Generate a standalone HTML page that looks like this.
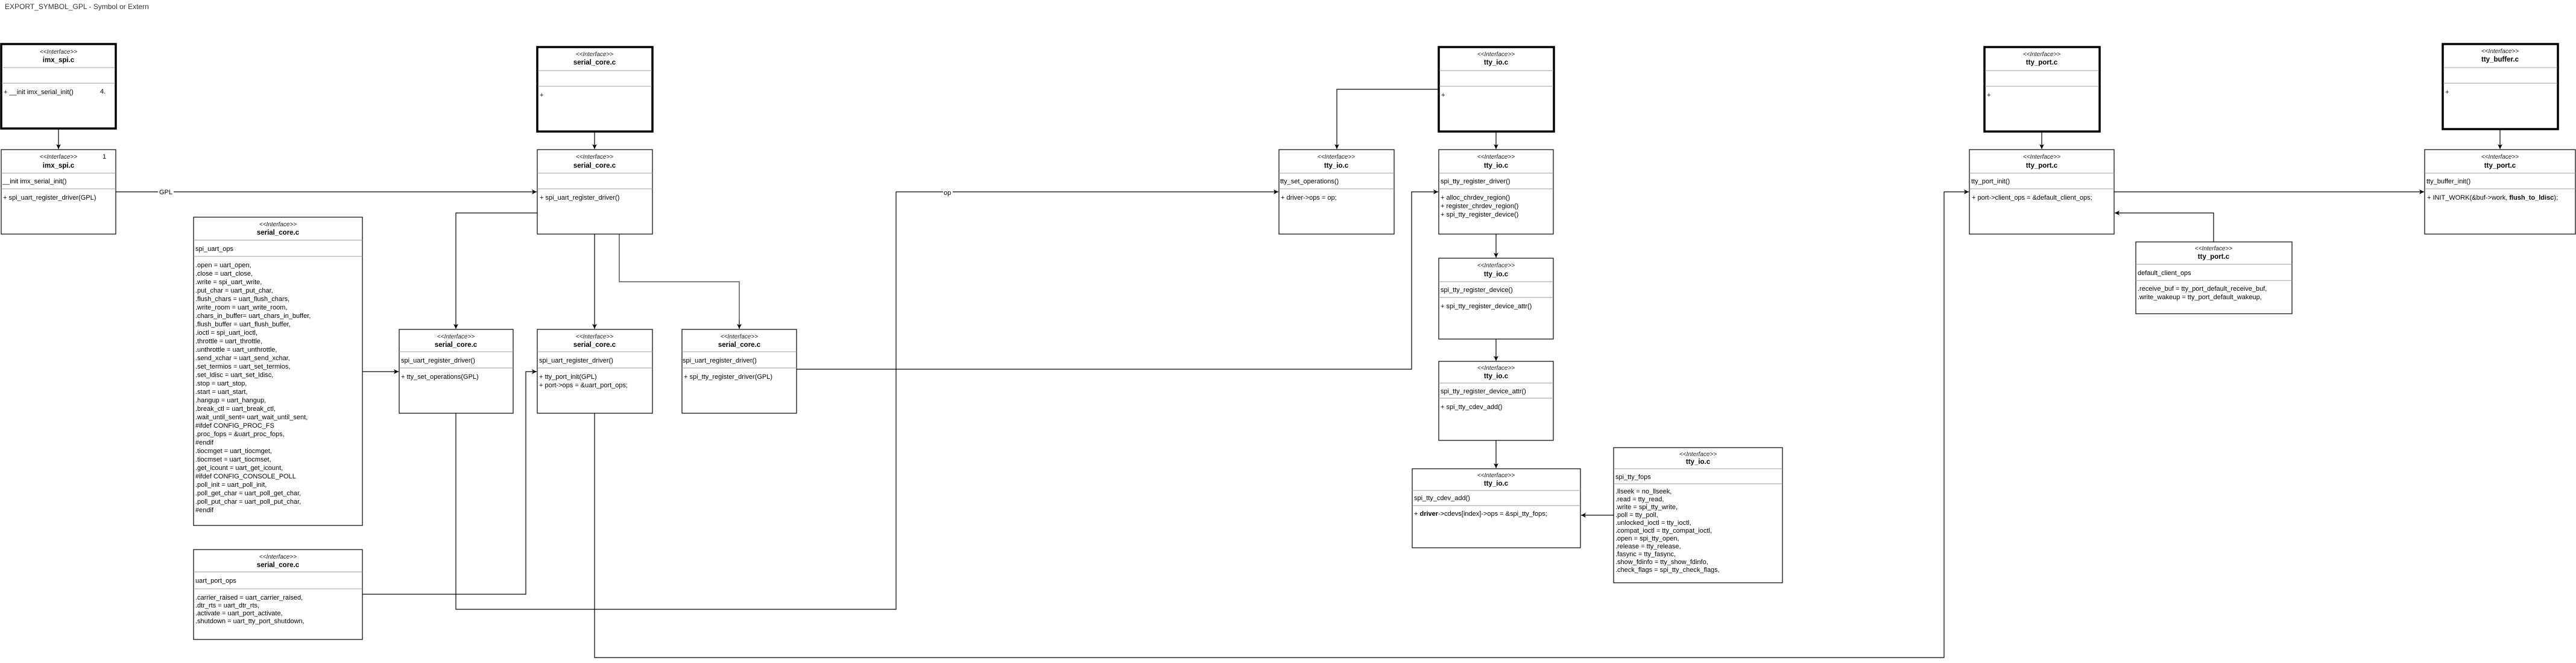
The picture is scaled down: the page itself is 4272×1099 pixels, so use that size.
<!DOCTYPE html>
<html><head><meta charset="utf-8">
<style>
html,body{margin:0;padding:0;background:#fff;}
svg{display:block;}
text{font-family:"Liberation Sans",Arial,sans-serif;font-size:11px;fill:#000;}
.st{font-style:italic;font-size:10px;fill:#222;}
.nm{font-weight:bold;font-size:11.5px;}
.b{fill:#fff;stroke:#000;stroke-width:1.2;}
.bb{fill:#fff;stroke:#000;stroke-width:3.5;}
.dv{stroke:#9a9a9a;stroke-width:1;}
.c{fill:none;stroke:#000;stroke-width:1.2;}
</style></head><body>
<svg width="4272" height="1099" viewBox="0 0 4272 1099" xmlns="http://www.w3.org/2000/svg">
<defs>
<marker id="a" markerWidth="10" markerHeight="10" refX="8" refY="4" orient="auto" markerUnits="userSpaceOnUse">
<path d="M0,0 L8,4 L0,8 L2,4 z" fill="#000"/></marker>
</defs>
<rect width="4272" height="1099" fill="#fff"/>
<text x="8" y="15" style="font-size:12px;fill:#333">EXPORT_SYMBOL_GPL - Symbol or Extern</text>

<!-- connectors -->
<path class="c" d="M97,213 V247" marker-end="url(#a)"/>
<path class="c" d="M192,318 H890" marker-end="url(#a)"/>
<rect x="262" y="311" width="26" height="14" fill="#fff"/>
<text x="264" y="322">GPL</text>
<path class="c" d="M986,218 V247" marker-end="url(#a)"/>
<path class="c" d="M891,353 H756 V545" marker-end="url(#a)"/>
<path class="c" d="M986,388 V545" marker-end="url(#a)"/>
<path d="M1027,388 V467 H1226 V530" fill="none" stroke="#808080" stroke-width="2"/>
<path class="c" d="M1226,530 V545" marker-end="url(#a)"/>
<path class="c" d="M601,616 H661" marker-end="url(#a)"/>
<path class="c" d="M601,985 H872 V616 H890" marker-end="url(#a)"/>
<path class="c" d="M756,685 V1010 H1486 V318 H2120" marker-end="url(#a)"/>
<rect x="1564" y="312" width="16" height="13" fill="#fff"/>
<text x="1565" y="323">op</text>
<path class="c" d="M986,685 V1090 H3224 V318 H3265" marker-end="url(#a)"/>
<path class="c" d="M1321,612 H2341 V318 H2385" marker-end="url(#a)"/>
<path class="c" d="M2386,148 H2217 V247" marker-end="url(#a)"/>
<path class="c" d="M2481,218 V247" marker-end="url(#a)"/>
<path class="c" d="M2481,388 V427" marker-end="url(#a)"/>
<path class="c" d="M2481,562 V598" marker-end="url(#a)"/>
<path class="c" d="M2481,730 V776" marker-end="url(#a)"/>
<path class="c" d="M2676,854 H2622" marker-end="url(#a)"/>
<path class="c" d="M3386,218 V247" marker-end="url(#a)"/>
<path class="c" d="M3671,401 V353 H3507" marker-end="url(#a)"/>
<path class="c" d="M3506,318 H4020" marker-end="url(#a)"/>
<path class="c" d="M4146,214 V247" marker-end="url(#a)"/>

<!-- 1 imx top -->
<rect class="bb" x="2" y="73" width="190" height="140"/>
<line class="dv" x1="3" y1="112" x2="191" y2="112"/><line class="dv" x1="3" y1="138" x2="191" y2="138"/>
<text class="st" x="97" y="89" text-anchor="middle">&lt;&lt;Interface&gt;&gt;</text>
<text class="nm" x="97" y="103" text-anchor="middle">imx_spi.c</text>
<text x="6" y="156">+ __init imx_serial_init()</text>
<text x="166" y="155">4.</text>

<!-- 2 imx second -->
<rect class="b" x="2" y="248" width="190" height="140"/>
<line class="dv" x1="2" y1="287" x2="192" y2="287"/><line class="dv" x1="2" y1="313" x2="192" y2="313"/>
<text class="st" x="97" y="263" text-anchor="middle">&lt;&lt;Interface&gt;&gt;</text>
<text class="nm" x="97" y="278" text-anchor="middle">imx_spi.c</text>
<text x="170" y="263">1</text>
<text x="4" y="304">__init imx_serial_init()</text>
<text x="5" y="331">+  spi_uart_register_driver(GPL)</text>

<!-- 3 serial_core top -->
<rect class="bb" x="891" y="78" width="191" height="140"/>
<line class="dv" x1="892" y1="117" x2="1081" y2="117"/><line class="dv" x1="892" y1="143" x2="1081" y2="143"/>
<text class="st" x="986" y="93" text-anchor="middle">&lt;&lt;Interface&gt;&gt;</text>
<text class="nm" x="986" y="107" text-anchor="middle">serial_core.c</text>
<text x="895" y="161">+</text>

<!-- 4 serial_core second -->
<rect class="b" x="891" y="248" width="191" height="140"/>
<line class="dv" x1="891" y1="287" x2="1082" y2="287"/><line class="dv" x1="891" y1="313" x2="1082" y2="313"/>
<text class="st" x="986" y="263" text-anchor="middle">&lt;&lt;Interface&gt;&gt;</text>
<text class="nm" x="986" y="278" text-anchor="middle">serial_core.c</text>
<text x="895" y="331">+ spi_uart_register_driver()</text>

<!-- 5 spi_uart_ops -->
<rect class="b" x="321" y="360" width="280" height="511"/>
<line class="dv" x1="321" y1="398" x2="601" y2="398"/><line class="dv" x1="321" y1="425" x2="601" y2="425"/>
<text class="st" x="461" y="375" text-anchor="middle">&lt;&lt;Interface&gt;&gt;</text>
<text class="nm" x="461" y="389" text-anchor="middle">serial_core.c</text>
<text x="324" y="416">spi_uart_ops</text>
<text x="324" y="443">.open = uart_open,</text>
<text x="324" y="457">.close = uart_close,</text>
<text x="324" y="471">.write = spi_uart_write,</text>
<text x="324" y="485">.put_char = uart_put_char,</text>
<text x="324" y="499">.flush_chars = uart_flush_chars,</text>
<text x="324" y="513">.write_room = uart_write_room,</text>
<text x="324" y="527">.chars_in_buffer= uart_chars_in_buffer,</text>
<text x="324" y="541">.flush_buffer = uart_flush_buffer,</text>
<text x="324" y="555">.ioctl = spi_uart_ioctl,</text>
<text x="324" y="569">.throttle = uart_throttle,</text>
<text x="324" y="583">.unthrottle = uart_unthrottle,</text>
<text x="324" y="597">.send_xchar = uart_send_xchar,</text>
<text x="324" y="611">.set_termios = uart_set_termios,</text>
<text x="324" y="625">.set_ldisc = uart_set_ldisc,</text>
<text x="324" y="639">.stop = uart_stop,</text>
<text x="324" y="653">.start = uart_start,</text>
<text x="324" y="667">.hangup = uart_hangup,</text>
<text x="324" y="681">.break_ctl = uart_break_ctl,</text>
<text x="324" y="695">.wait_until_sent= uart_wait_until_sent,</text>
<text x="324" y="709">#ifdef CONFIG_PROC_FS</text>
<text x="324" y="723">.proc_fops = &amp;uart_proc_fops,</text>
<text x="324" y="737">#endif</text>
<text x="324" y="751">.tiocmget = uart_tiocmget,</text>
<text x="324" y="765">.tiocmset = uart_tiocmset,</text>
<text x="324" y="779">.get_icount = uart_get_icount,</text>
<text x="324" y="793">#ifdef CONFIG_CONSOLE_POLL</text>
<text x="324" y="807">.poll_init = uart_poll_init,</text>
<text x="324" y="821">.poll_get_char = uart_poll_get_char,</text>
<text x="324" y="835">.poll_put_char = uart_poll_put_char,</text>
<text x="324" y="849">#endif</text>

<!-- 6 uart_port_ops -->
<rect class="b" x="321" y="911" width="280" height="149"/>
<line class="dv" x1="321" y1="948" x2="601" y2="948"/><line class="dv" x1="321" y1="976" x2="601" y2="976"/>
<text class="st" x="461" y="926" text-anchor="middle">&lt;&lt;Interface&gt;&gt;</text>
<text class="nm" x="461" y="940" text-anchor="middle">serial_core.c</text>
<text x="324" y="966">uart_port_ops</text>
<text x="324" y="994">.carrier_raised = uart_carrier_raised,</text>
<text x="324" y="1007">.dtr_rts = uart_dtr_rts,</text>
<text x="324" y="1020">.activate = uart_port_activate,</text>
<text x="324" y="1033">.shutdown = uart_tty_port_shutdown,</text>

<!-- 7 A -->
<rect class="b" x="662" y="546" width="189" height="139"/>
<line class="dv" x1="662" y1="583" x2="851" y2="583"/><line class="dv" x1="662" y1="610" x2="851" y2="610"/>
<text class="st" x="756" y="561" text-anchor="middle">&lt;&lt;Interface&gt;&gt;</text>
<text class="nm" x="756" y="575" text-anchor="middle">serial_core.c</text>
<text x="665" y="601">spi_uart_register_driver()</text>
<text x="665" y="628">+ tty_set_operations(GPL)</text>

<!-- 8 B -->
<rect class="b" x="891" y="546" width="191" height="139"/>
<line class="dv" x1="891" y1="583" x2="1082" y2="583"/><line class="dv" x1="891" y1="610" x2="1082" y2="610"/>
<text class="st" x="986" y="561" text-anchor="middle">&lt;&lt;Interface&gt;&gt;</text>
<text class="nm" x="986" y="575" text-anchor="middle">serial_core.c</text>
<text x="894" y="601">spi_uart_register_driver()</text>
<text x="894" y="628">+ tty_port_init(GPL)</text>
<text x="894" y="642">+ port-&gt;ops = &amp;uart_port_ops;</text>

<!-- 9 C -->
<rect class="b" x="1131" y="546" width="190" height="139"/>
<line class="dv" x1="1131" y1="583" x2="1321" y2="583"/><line class="dv" x1="1131" y1="610" x2="1321" y2="610"/>
<text class="st" x="1226" y="561" text-anchor="middle">&lt;&lt;Interface&gt;&gt;</text>
<text class="nm" x="1226" y="575" text-anchor="middle">serial_core.c</text>
<text x="1132" y="601">spi_uart_register_driver()</text>
<text x="1134" y="628">+ spi_tty_register_driver(GPL)</text>

<!-- 10 tty_set_operations -->
<rect class="b" x="2121" y="248" width="191" height="140"/>
<line class="dv" x1="2121" y1="287" x2="2312" y2="287"/><line class="dv" x1="2121" y1="313" x2="2312" y2="313"/>
<text class="st" x="2216" y="263" text-anchor="middle">&lt;&lt;Interface&gt;&gt;</text>
<text class="nm" x="2216" y="278" text-anchor="middle">tty_io.c</text>
<text x="2123" y="304">tty_set_operations()</text>
<text x="2124" y="331">+ driver-&gt;ops = op;</text>

<!-- 11 tty_io top -->
<rect class="bb" x="2386" y="78" width="191" height="140"/>
<line class="dv" x1="2387" y1="117" x2="2576" y2="117"/><line class="dv" x1="2387" y1="143" x2="2576" y2="143"/>
<text class="st" x="2481" y="93" text-anchor="middle">&lt;&lt;Interface&gt;&gt;</text>
<text class="nm" x="2481" y="107" text-anchor="middle">tty_io.c</text>
<text x="2390" y="161">+</text>

<!-- 12 spi_tty_register_driver -->
<rect class="b" x="2386" y="248" width="190" height="140"/>
<line class="dv" x1="2386" y1="287" x2="2576" y2="287"/><line class="dv" x1="2386" y1="313" x2="2576" y2="313"/>
<text class="st" x="2481" y="263" text-anchor="middle">&lt;&lt;Interface&gt;&gt;</text>
<text class="nm" x="2481" y="278" text-anchor="middle">tty_io.c</text>
<text x="2389" y="304">spi_tty_register_driver()</text>
<text x="2389" y="331">+ alloc_chrdev_region()</text>
<text x="2389" y="345">+ register_chrdev_region()</text>
<text x="2389" y="359">+ spi_tty_register_device()</text>

<!-- 13 spi_tty_register_device -->
<rect class="b" x="2386" y="428" width="190" height="134"/>
<line class="dv" x1="2386" y1="467" x2="2576" y2="467"/><line class="dv" x1="2386" y1="493" x2="2576" y2="493"/>
<text class="st" x="2481" y="443" text-anchor="middle">&lt;&lt;Interface&gt;&gt;</text>
<text class="nm" x="2481" y="458" text-anchor="middle">tty_io.c</text>
<text x="2389" y="484">spi_tty_register_device()</text>
<text x="2389" y="511">+ spi_tty_register_device_attr()</text>

<!-- 14 attr -->
<rect class="b" x="2386" y="599" width="190" height="131"/>
<line class="dv" x1="2386" y1="635" x2="2576" y2="635"/><line class="dv" x1="2386" y1="660" x2="2576" y2="660"/>
<text class="st" x="2481" y="613" text-anchor="middle">&lt;&lt;Interface&gt;&gt;</text>
<text class="nm" x="2481" y="627" text-anchor="middle">tty_io.c</text>
<text x="2389" y="652">spi_tty_register_device_attr()</text>
<text x="2389" y="678">+ spi_tty_cdev_add()</text>

<!-- 15 cdev_add -->
<rect class="b" x="2342" y="777" width="279" height="131"/>
<line class="dv" x1="2342" y1="813" x2="2621" y2="813"/><line class="dv" x1="2342" y1="838" x2="2621" y2="838"/>
<text class="st" x="2481" y="791" text-anchor="middle">&lt;&lt;Interface&gt;&gt;</text>
<text class="nm" x="2481" y="805" text-anchor="middle">tty_io.c</text>
<text x="2345" y="829">spi_tty_cdev_add()</text>
<text x="2345" y="855">+ <tspan font-weight="bold">driver</tspan>-&gt;cdevs[index]-&gt;ops = &amp;spi_tty_fops;</text>

<!-- 16 fops -->
<rect class="b" x="2676" y="742" width="280" height="224"/>
<line class="dv" x1="2676" y1="777" x2="2956" y2="777"/><line class="dv" x1="2676" y1="802" x2="2956" y2="802"/>
<text class="st" x="2816" y="756" text-anchor="middle">&lt;&lt;Interface&gt;&gt;</text>
<text class="nm" x="2816" y="769" text-anchor="middle">tty_io.c</text>
<text x="2679" y="794">spi_tty_fops</text>
<text x="2679" y="818">.llseek = no_llseek,</text>
<text x="2679" y="831">.read = tty_read,</text>
<text x="2679" y="844">.write = spi_tty_write,</text>
<text x="2679" y="857">.poll = tty_poll,</text>
<text x="2679" y="870">.unlocked_ioctl = tty_ioctl,</text>
<text x="2679" y="883">.compat_ioctl = tty_compat_ioctl,</text>
<text x="2679" y="896">.open = spi_tty_open,</text>
<text x="2679" y="909">.release = tty_release,</text>
<text x="2679" y="922">.fasync = tty_fasync,</text>
<text x="2679" y="935">.show_fdinfo = tty_show_fdinfo,</text>
<text x="2679" y="948">.check_flags = spi_tty_check_flags,</text>

<!-- 17 tty_port top -->
<rect class="bb" x="3291" y="78" width="191" height="140"/>
<line class="dv" x1="3292" y1="117" x2="3481" y2="117"/><line class="dv" x1="3292" y1="143" x2="3481" y2="143"/>
<text class="st" x="3386" y="93" text-anchor="middle">&lt;&lt;Interface&gt;&gt;</text>
<text class="nm" x="3386" y="107" text-anchor="middle">tty_port.c</text>
<text x="3295" y="161">+</text>

<!-- 18 tty_port_init -->
<rect class="b" x="3266" y="248" width="240" height="140"/>
<line class="dv" x1="3266" y1="287" x2="3506" y2="287"/><line class="dv" x1="3266" y1="313" x2="3506" y2="313"/>
<text class="st" x="3386" y="263" text-anchor="middle">&lt;&lt;Interface&gt;&gt;</text>
<text class="nm" x="3386" y="278" text-anchor="middle">tty_port.c</text>
<text x="3269" y="304">tty_port_init()</text>
<text x="3270" y="331">+ port-&gt;client_ops = &amp;default_client_ops;</text>

<!-- 19 default_client_ops -->
<rect class="b" x="3542" y="401" width="259" height="119"/>
<line class="dv" x1="3542" y1="438" x2="3801" y2="438"/><line class="dv" x1="3542" y1="465" x2="3801" y2="465"/>
<text class="st" x="3671" y="415" text-anchor="middle">&lt;&lt;Interface&gt;&gt;</text>
<text class="nm" x="3671" y="429" text-anchor="middle">tty_port.c</text>
<text x="3545" y="456">default_client_ops</text>
<text x="3545" y="482">.receive_buf = tty_port_default_receive_buf,</text>
<text x="3545" y="496">.write_wakeup = tty_port_default_wakeup,</text>

<!-- 20 tty_buffer top -->
<rect class="bb" x="4051" y="73" width="191" height="141"/>
<line class="dv" x1="4052" y1="112" x2="4241" y2="112"/><line class="dv" x1="4052" y1="138" x2="4241" y2="138"/>
<text class="st" x="4146" y="88" text-anchor="middle">&lt;&lt;Interface&gt;&gt;</text>
<text class="nm" x="4146" y="102" text-anchor="middle">tty_buffer.c</text>
<text x="4055" y="156">+</text>

<!-- 21 tty_port buffer_init -->
<rect class="b" x="4021" y="248" width="250" height="140"/>
<line class="dv" x1="4021" y1="287" x2="4271" y2="287"/><line class="dv" x1="4021" y1="313" x2="4271" y2="313"/>
<text class="st" x="4146" y="263" text-anchor="middle">&lt;&lt;Interface&gt;&gt;</text>
<text class="nm" x="4146" y="278" text-anchor="middle">tty_port.c</text>
<text x="4024" y="304">tty_buffer_init()</text>
<text x="4025" y="331">+ INIT_WORK(&amp;buf-&gt;work, <tspan font-weight="bold">flush_to_ldisc</tspan>);</text>
</svg>
</body></html>
